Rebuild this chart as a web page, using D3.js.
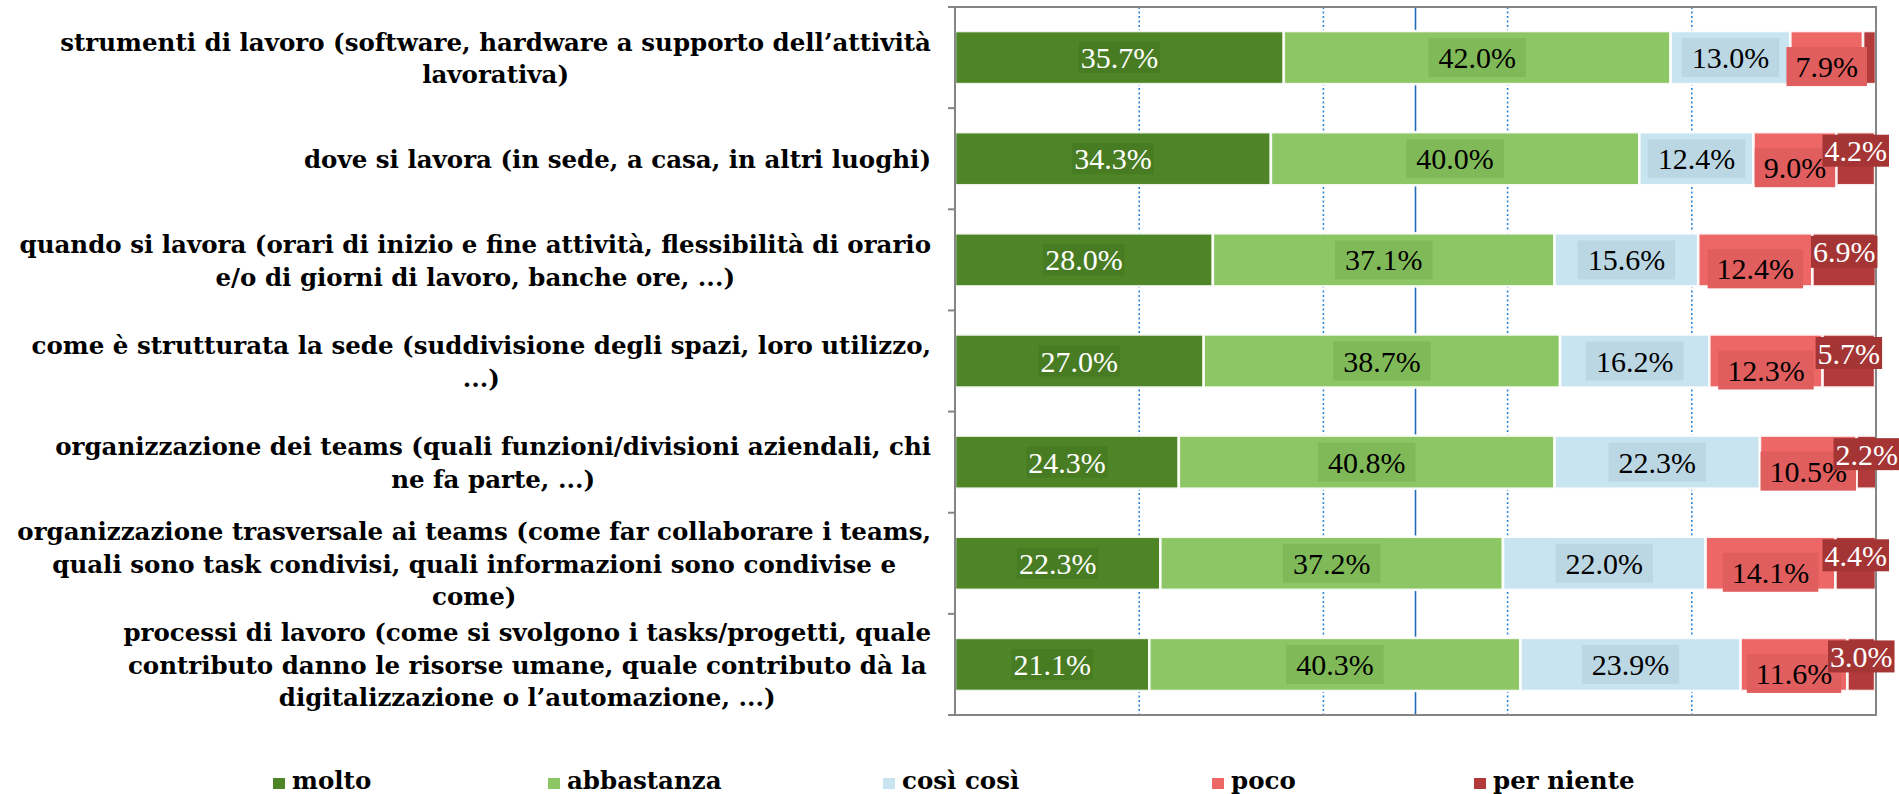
<!DOCTYPE html>
<html>
<head>
<meta charset="utf-8">
<script src="https://cdn.jsdelivr.net/npm/d3@7"></script>
<style>
  html, body { margin: 0; padding: 0; background: #ffffff; }
  svg { display: block; }
</style>
</head>
<body>
<svg id="chart" width="1899" height="794"></svg>
<script>
// ---------- DATA ----------
const categories = [
  "strumenti di lavoro (software, hardware a supporto dell’attività lavorativa)",
  "dove si lavora (in sede, a casa, in altri luoghi)",
  "quando si lavora (orari di inizio e fine attività, flessibilità di orario e/o di giorni di lavoro, banche ore, ...)",
  "come è strutturata la sede (suddivisione degli spazi, loro utilizzo, ...)",
  "organizzazione dei teams (quali funzioni/divisioni aziendali, chi ne fa parte, ...)",
  "organizzazione trasversale ai teams (come far collaborare i teams, quali sono task condivisi, quali informazioni sono condivise e come)",
  "processi di lavoro (come si svolgono i tasks/progetti, quale contributo danno le risorse umane, quale contributo dà la digitalizzazione o l’automazione, ...)"
];
const categoryLines = [
  ["strumenti di lavoro (software, hardware a supporto dell’attività", "lavorativa)"],
  ["dove si lavora (in sede, a casa, in altri luoghi)"],
  ["quando si lavora (orari di inizio e fine attività, flessibilità di orario", "e/o di giorni di lavoro, banche ore, ...)"],
  ["come è strutturata la sede (suddivisione degli spazi, loro utilizzo,", "...)"],
  ["organizzazione dei teams (quali funzioni/divisioni aziendali, chi", "ne fa parte, ...)"],
  ["organizzazione trasversale ai teams (come far collaborare i teams,", "quali sono task condivisi, quali informazioni sono condivise e", "come)"],
  ["processi di lavoro (come si svolgono i tasks/progetti, quale", "contributo danno le risorse umane, quale contributo dà la", "digitalizzazione o l’automazione, ...)"]
];
const seriesNames = ["molto", "abbastanza", "così così", "poco", "per niente"];
const molto      = [35.7, 34.3, 28.0, 27.0, 24.3, 22.3, 21.1];
const abbastanza = [42.0, 40.0, 37.1, 38.7, 40.8, 37.2, 40.3];
const cosiCosi   = [13.0, 12.4, 15.6, 16.2, 22.3, 22.0, 23.9];
const poco       = [ 7.9,  9.0, 12.4, 12.3, 10.5, 14.1, 11.6];
const perNiente  = [ 1.4,  4.2,  6.9,  5.7,  2.2,  4.4,  3.0];
const xTicks = [0, 20, 40, 50, 60, 80, 100];

// ---------- STYLE / LAYOUT ----------
const seriesValues = [molto, abbastanza, cosiCosi, poco, perNiente];
const colors    = ["#4e8527", "#8dc664", "#c9e4f1", "#ee6767", "#b33a3a"];
const boxColors = ["#487c23", "#80ba58", "#bcd7e4", "#e05e5e", "#a53434"];
const textColors = ["#ffffff", "#000000", "#000000", "#000000", "#ffffff"];
const boxPadX = [2, 10, 10, 9, 2];
const boxH    = [31, 39, 39, 39, 32];
const labelDy = [0, 0, 0, 9, -8];

const plot = { left: 955, right: 1876, top: 7, bottom: 715 };
const svg = d3.select("#chart");

const x = d3.scaleLinear().domain([0, 100]).range([plot.left, plot.right]);
const y = d3.scaleBand().domain(d3.range(categories.length))
  .range([plot.top, plot.bottom]).paddingInner(0.475).paddingOuter(0.2375);

// stacked data
const rows = categories.map((c, i) => {
  const o = { i };
  seriesNames.forEach((s, k) => o[s] = seriesValues[k][i]);
  return o;
});
const stacked = d3.stack().keys(seriesNames)(rows);

// gridlines
const grid = svg.append("g");
grid.selectAll("line").data(xTicks.filter(t => t > 0 && t < 100)).join("line")
  .attr("x1", d => x(d)).attr("x2", d => x(d))
  .attr("y1", plot.top).attr("y2", plot.bottom)
  .attr("stroke", d => d === 50 ? "#1f6cb4" : "#2b86d8")
  .attr("stroke-width", 1.6)
  .attr("stroke-dasharray", d => d === 50 ? null : "2,2.5");

// bars
const barG = svg.append("g");
stacked.forEach((layer, k) => {
  barG.append("g").selectAll("rect").data(layer).join("rect")
    .attr("x", d => x(d[0]))
    .attr("y", (d, i) => y(i))
    .attr("width", d => Math.max(0, x(d[1]) - x(d[0])))
    .attr("height", y.bandwidth())
    .attr("fill", colors[k])
    .attr("stroke", "#ffffff")
    .attr("stroke-width", 2.6)
    .attr("stroke-opacity", 0.9);
});

// frame / axes
const axisColor = "#858585";
svg.append("rect")
  .attr("x", plot.left).attr("y", plot.top)
  .attr("width", plot.right - plot.left).attr("height", plot.bottom - plot.top)
  .attr("fill", "none").attr("stroke", axisColor).attr("stroke-width", 2);
const boundaries = d3.range(categories.length + 1).map(i => plot.top + i * y.step());
svg.append("g").selectAll("line").data(boundaries).join("line")
  .attr("x1", plot.left - 7).attr("x2", plot.left)
  .attr("y1", d => d).attr("y2", d => d)
  .attr("stroke", axisColor).attr("stroke-width", 2);

// value labels
const labelFont = "'Liberation Serif', 'Times New Roman', serif";
const labG = svg.append("g");
stacked.forEach((layer, k) => {
  layer.forEach((d, i) => {
    const v = d[1] - d[0];
    if (v < 2) return;
    const cx = (x(d[0]) + x(d[1])) / 2;
    const cy = y(i) + y.bandwidth() / 2 + labelDy[k];
    const g = labG.append("g");
    const rect = g.append("rect").attr("fill", boxColors[k]);
    const t = g.append("text")
      .attr("x", cx).attr("y", cy)
      .attr("text-anchor", "middle")
      .attr("dominant-baseline", "central")
      .attr("font-family", labelFont)
      .attr("font-size", 30)
      .attr("fill", textColors[k])
      .text(v.toFixed(1) + "%");
    const w = t.node().getComputedTextLength();
    rect.attr("x", cx - w / 2 - boxPadX[k]).attr("y", cy - boxH[k] / 2)
      .attr("width", w + 2 * boxPadX[k]).attr("height", boxH[k]);
  });
});

// category labels
const catFont = "'DejaVu Serif', serif";
const catSize = 24.5;
const lineH = 32.5;
const catG = svg.append("g");
categoryLines.forEach((lines, i) => {
  const g = catG.append("g");
  const cy = y(i) + y.bandwidth() / 2 + 1;
  const texts = lines.map((ln, j) => g.append("text")
    .attr("y", cy + (j - (lines.length - 1) / 2) * lineH)
    .attr("dominant-baseline", "central")
    .attr("text-anchor", "middle")
    .attr("font-family", catFont)
    .attr("font-weight", "bold")
    .attr("font-size", catSize)
    .attr("fill", "#000")
    .text(ln));
  const maxW = d3.max(texts, t => t.node().getComputedTextLength());
  const blockRight = 931;
  texts.forEach(t => t.attr("x", blockRight - maxW / 2));
});

// legend
const legendX = [273, 548, 883, 1212, 1474];
const legendBaseline = 789;
const leg = svg.append("g");
seriesNames.forEach((s, k) => {
  leg.append("rect").attr("x", legendX[k]).attr("y", legendBaseline - 11)
    .attr("width", 12).attr("height", 11).attr("fill", colors[k]);
  leg.append("text").attr("x", legendX[k] + 19).attr("y", legendBaseline)
    .attr("font-family", catFont).attr("font-weight", "bold")
    .attr("font-size", catSize).attr("fill", "#000")
    .text(s);
});
</script>
</body>
</html>
